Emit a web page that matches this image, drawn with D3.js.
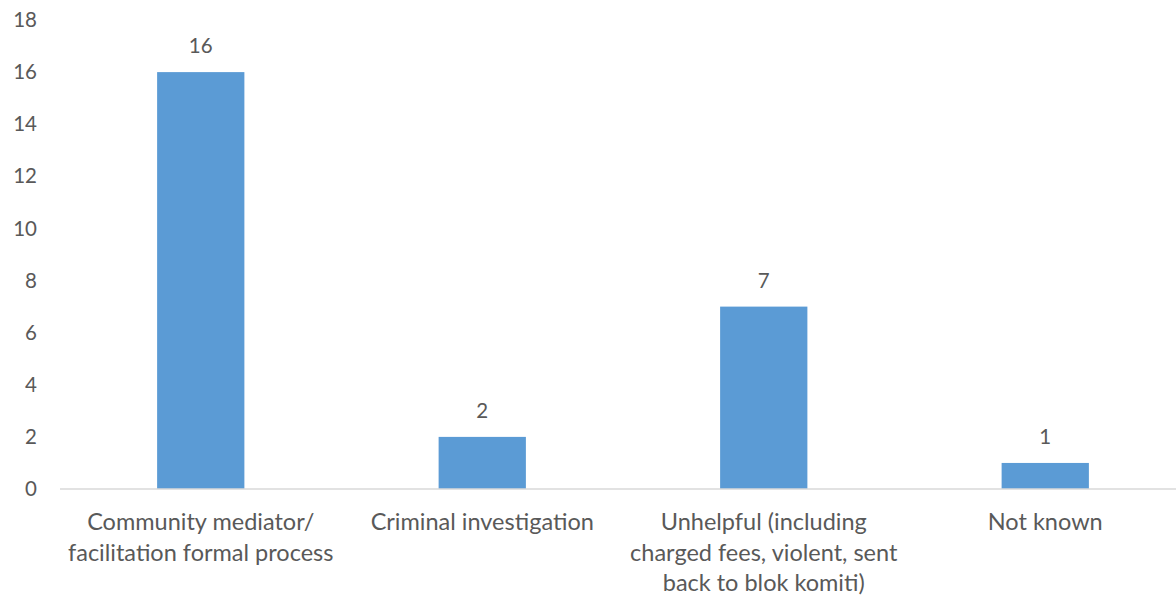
<!DOCTYPE html>
<html>
<head>
<meta charset="utf-8">
<script src="https://cdn.jsdelivr.net/npm/d3@7"></script>
<style>
  body { margin: 0; background: #fff; }
  svg text { font-family: Lato, "Open Sans", sans-serif; fill: #595959; }
</style>
</head>
<body>
<div id="chart"></div>
<script>
// Chart data
const categories = [
  'Community mediator/ facilitation formal process',
  'Criminal investigation',
  'Unhelpful (including charged fees, violent, sent back to blok komiti)',
  'Not known'
];
const categoryLines = [
  ['Community mediator/', 'facilitation formal process'],
  ['Criminal investigation'],
  ['Unhelpful (including', 'charged fees, violent, sent', 'back to blok komiti)'],
  ['Not known']
];
const values = [16, 2, 7, 1];
const yTicks = [0, 2, 4, 6, 8, 10, 12, 14, 16, 18];

const width = 1176;
const height = 599;

const svg = d3.select('#chart')
  .append('svg')
  .attr('width', width)
  .attr('height', height);

const x = d3.scaleBand()
  .domain(categories)
  .range([60, 1186])
  .paddingInner(0.69)
  .paddingOuter(0.345);

const y = d3.scaleLinear()
  .domain([0, 18])
  .range([489, 20]);

// y axis labels (no axis line)
const yAxis = svg.append('g')
  .attr('transform', 'translate(37,0)')
  .call(d3.axisLeft(y).tickValues(yTicks).tickSize(0).tickPadding(0));
yAxis.select('.domain').remove();
yAxis.selectAll('text')
  .attr('font-size', 20.5)
  .attr('font-family', 'Lato, sans-serif')
  .attr('fill', '#595959');

// bars
svg.selectAll('rect.bar')
  .data(values)
  .enter()
  .append('rect')
  .attr('class', 'bar')
  .attr('x', (d, i) => x(categories[i]))
  .attr('y', d => y(d))
  .attr('width', x.bandwidth())
  .attr('height', d => y(0) - y(d))
  .attr('fill', '#5B9BD5');

// baseline
svg.append('line')
  .attr('x1', 60)
  .attr('x2', width)
  .attr('y1', y(0))
  .attr('y2', y(0))
  .attr('stroke', '#d9d9d9')
  .attr('stroke-width', 1.5);

// value labels
svg.selectAll('text.value')
  .data(values)
  .enter()
  .append('text')
  .attr('class', 'value')
  .attr('x', (d, i) => x(categories[i]) + x.bandwidth() / 2)
  .attr('y', d => y(d) - 27)
  .attr('text-anchor', 'middle')
  .attr('dominant-baseline', 'central')
  .attr('font-size', 20.5)
  .text(d => d);

// category labels
const cat = svg.selectAll('text.cat')
  .data(categoryLines)
  .enter()
  .append('text')
  .attr('class', 'cat')
  .attr('text-anchor', 'middle')
  .attr('font-size', 23.5);
cat.selectAll('tspan')
  .data((lines, i) => lines.map(l => ({ l, i })))
  .enter()
  .append('tspan')
  .attr('x', d => x(categories[d.i]) + x.bandwidth() / 2)
  .attr('y', (d, j) => 530 + j * 30.5)
  .text(d => d.l);
</script>
</body>
</html>
